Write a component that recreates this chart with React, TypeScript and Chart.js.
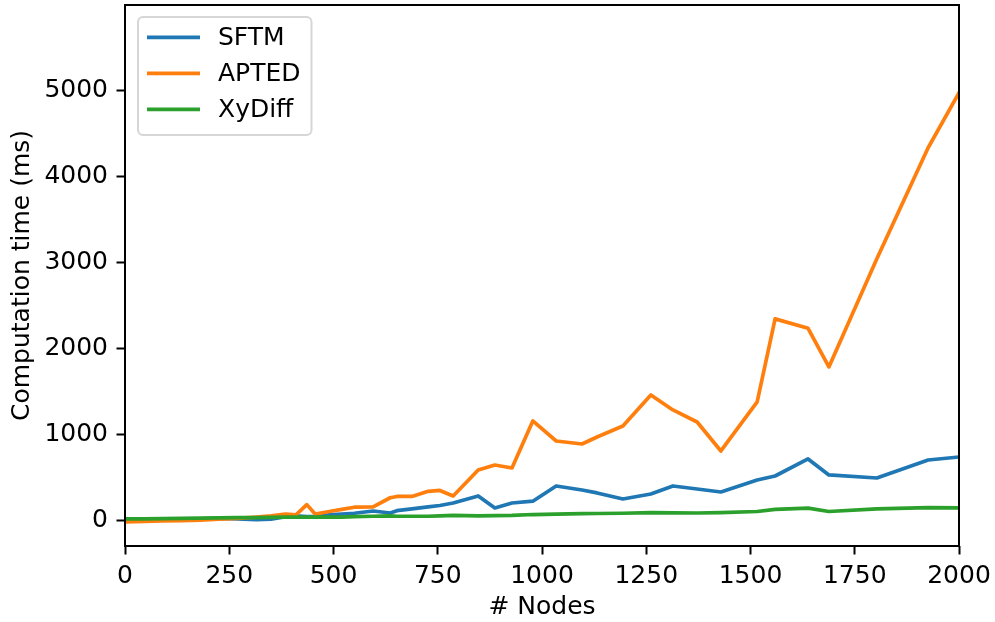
import React, { useEffect, useRef } from "react";
import { Chart, registerables } from "chart.js";

Chart.register(...registerables);

const nodes = [0, 45, 90, 135, 180, 225, 270, 315, 350, 385, 410, 436, 456, 490, 520, 550, 595, 636, 652, 688, 727, 755, 787, 847, 887, 928, 978, 1034, 1096, 1132, 1194, 1261, 1314, 1372, 1429, 1516, 1559, 1638, 1688, 1803, 1926, 2000];
const sftm = [20, 20, 15, 15, 25, 30, 25, 15, 20, 50, 60, 50, 55, 70, 80, 90, 116, 93, 120, 140, 163, 180, 209, 291, 151, 209, 230, 407, 360, 326, 256, 314, 407, 372, 337, 477, 523, 721, 535, 500, 709, 744];
const apted = [-10, -5, 0, 5, 10, 20, 30, 45, 60, 80, 70, 190, 80, 110, 135, 160, 165, 270, 285, 285, 345, 355, 291, 593, 651, 616, 1163, 930, 895, 977, 1105, 1465, 1291, 1151, 814, 1384, 2350, 2240, 1791, 3050, 4340, 4980];
const xydiff = [25, 25, 28, 30, 32, 35, 38, 40, 42, 45, 45, 45, 45, 45, 45, 50, 55, 60, 55, 55, 55, 60, 65, 60, 62, 65, 75, 80, 85, 87, 90, 97, 95, 93, 97, 110, 135, 150, 110, 140, 155, 152];

const xTicks = [0, 250, 500, 750, 1000, 1250, 1500, 1750, 2000];
const yTicks = [0, 1000, 2000, 3000, 4000, 5000];
const seriesNames = ["SFTM", "APTED", "XyDiff"];
const seriesColors = ["#1f77b4", "#ff7f0e", "#2ca02c"];
const seriesValues = [sftm, apted, xydiff];

const FS = 25;
const FAMILY = "'DejaVu Sans', sans-serif";

export default function App() {
  const ref = useRef<HTMLCanvasElement>(null);

  useEffect(() => {
    document.body.style.margin = "0";
    const canvas = ref.current;
    if (!canvas) return;

    const framePlugin = {
      id: "frameAndLegend",
      afterDraw(chart: any) {
        const { ctx, chartArea: a } = chart;
        ctx.save();
        // spines
        ctx.strokeStyle = "#000";
        ctx.lineWidth = 2;
        ctx.strokeRect(a.left, a.top, a.right - a.left, a.bottom - a.top);

        // legend
        ctx.font = `${FS}px ${FAMILY}`;
        const lx = a.left + 13;
        const ly = a.top + 12;
        const lineX0 = lx + 9;
        const lineX1 = lx + 62;
        const textX = lx + 80;
        const tw = Math.max(...seriesNames.map((n) => ctx.measureText(n).width));
        const w = textX + tw + 11 - lx;
        const h = 118;
        const r = 5;
        ctx.beginPath();
        ctx.moveTo(lx + r, ly);
        ctx.lineTo(lx + w - r, ly);
        ctx.arcTo(lx + w, ly, lx + w, ly + r, r);
        ctx.lineTo(lx + w, ly + h - r);
        ctx.arcTo(lx + w, ly + h, lx + w - r, ly + h, r);
        ctx.lineTo(lx + r, ly + h);
        ctx.arcTo(lx, ly + h, lx, ly + h - r, r);
        ctx.lineTo(lx, ly + r);
        ctx.arcTo(lx, ly, lx + r, ly, r);
        ctx.closePath();
        ctx.fillStyle = "rgba(255,255,255,0.8)";
        ctx.fill();
        ctx.strokeStyle = "#d6d6d6";
        ctx.lineWidth = 2;
        ctx.stroke();

        seriesNames.forEach((name, i) => {
          const y = ly + 20.3 + 36 * i;
          ctx.beginPath();
          ctx.moveTo(lineX0, y);
          ctx.lineTo(lineX1, y);
          ctx.strokeStyle = seriesColors[i];
          ctx.lineWidth = 3.7;
          ctx.lineCap = "butt";
          ctx.stroke();
          ctx.fillStyle = "#000";
          ctx.textBaseline = "middle";
          ctx.textAlign = "left";
          ctx.fillText(name, textX, y + 1);
        });
        ctx.restore();
      },
    };

    const datasets = seriesNames.map((name, i) => ({
      label: name,
      data: nodes.map((x, j) => ({ x, y: seriesValues[i][j] })),
      borderColor: seriesColors[i],
      backgroundColor: seriesColors[i],
      borderWidth: 3.7,
      pointRadius: 0,
      pointHoverRadius: 0,
      tension: 0,
      fill: false,
      borderJoinStyle: "round" as const,
      borderCapStyle: "square" as const,
      order: 2 - i,
    }));

    const tickFont = { family: FAMILY, size: FS };

    const chart = new Chart(canvas, {
      type: "line",
      data: { datasets },
      plugins: [framePlugin],
      options: {
        animation: false,
        responsive: false,
        devicePixelRatio: 1,
        layout: { padding: { top: 5, right: 36, left: 0, bottom: 0 } },
        plugins: {
          legend: { display: false },
          tooltip: { enabled: false },
        },
        scales: {
          x: {
            type: "linear",
            min: 0,
            max: 2000,
            afterBuildTicks: (scale: any) => {
              scale.ticks = xTicks.map((v) => ({ value: v }));
            },
            afterFit: (scale: any) => {
              scale.height = 76;
              scale.paddingLeft = 0;
              scale.paddingRight = 0;
            },
            ticks: {
              font: tickFont,
              color: "#000",
              padding: 7,
              maxRotation: 0,
              autoSkip: false,
              callback: (v: any) => String(v),
            },
            grid: {
              display: true,
              drawOnChartArea: false,
              drawTicks: true,
              tickLength: 8.5,
              tickColor: "#000",
              tickWidth: 2,
              color: "#000",
            },
            border: { display: false },
            title: {
              display: true,
              text: "# Nodes",
              font: tickFont,
              color: "#000",
              padding: { top: 0, bottom: 0 },
            },
          },
          y: {
            type: "linear",
            min: -291,
            max: 6000,
            afterBuildTicks: (scale: any) => {
              scale.ticks = yTicks.map((v) => ({ value: v }));
            },
            afterFit: (scale: any) => {
              scale.width = 125;
              scale.paddingTop = 0;
              scale.paddingBottom = 0;
            },
            ticks: {
              font: tickFont,
              color: "#000",
              padding: 8.5,
              autoSkip: false,
              callback: (v: any) => String(v),
            },
            grid: {
              display: true,
              drawOnChartArea: false,
              drawTicks: true,
              tickLength: 8.5,
              tickColor: "#000",
              tickWidth: 2,
              color: "#000",
            },
            border: { display: false },
            title: {
              display: true,
              text: "Computation time (ms)",
              font: tickFont,
              color: "#000",
              padding: { top: 7, bottom: 0 },
            },
          },
        },
      },
    });

    return () => chart.destroy();
  }, []);

  return (
    <div style={{ position: "absolute", left: 0, top: 0, width: 995, height: 622, background: "#fff" }}>
      <canvas ref={ref} width={995} height={622} style={{ display: "block", width: 995, height: 622 }} />
    </div>
  );
}
